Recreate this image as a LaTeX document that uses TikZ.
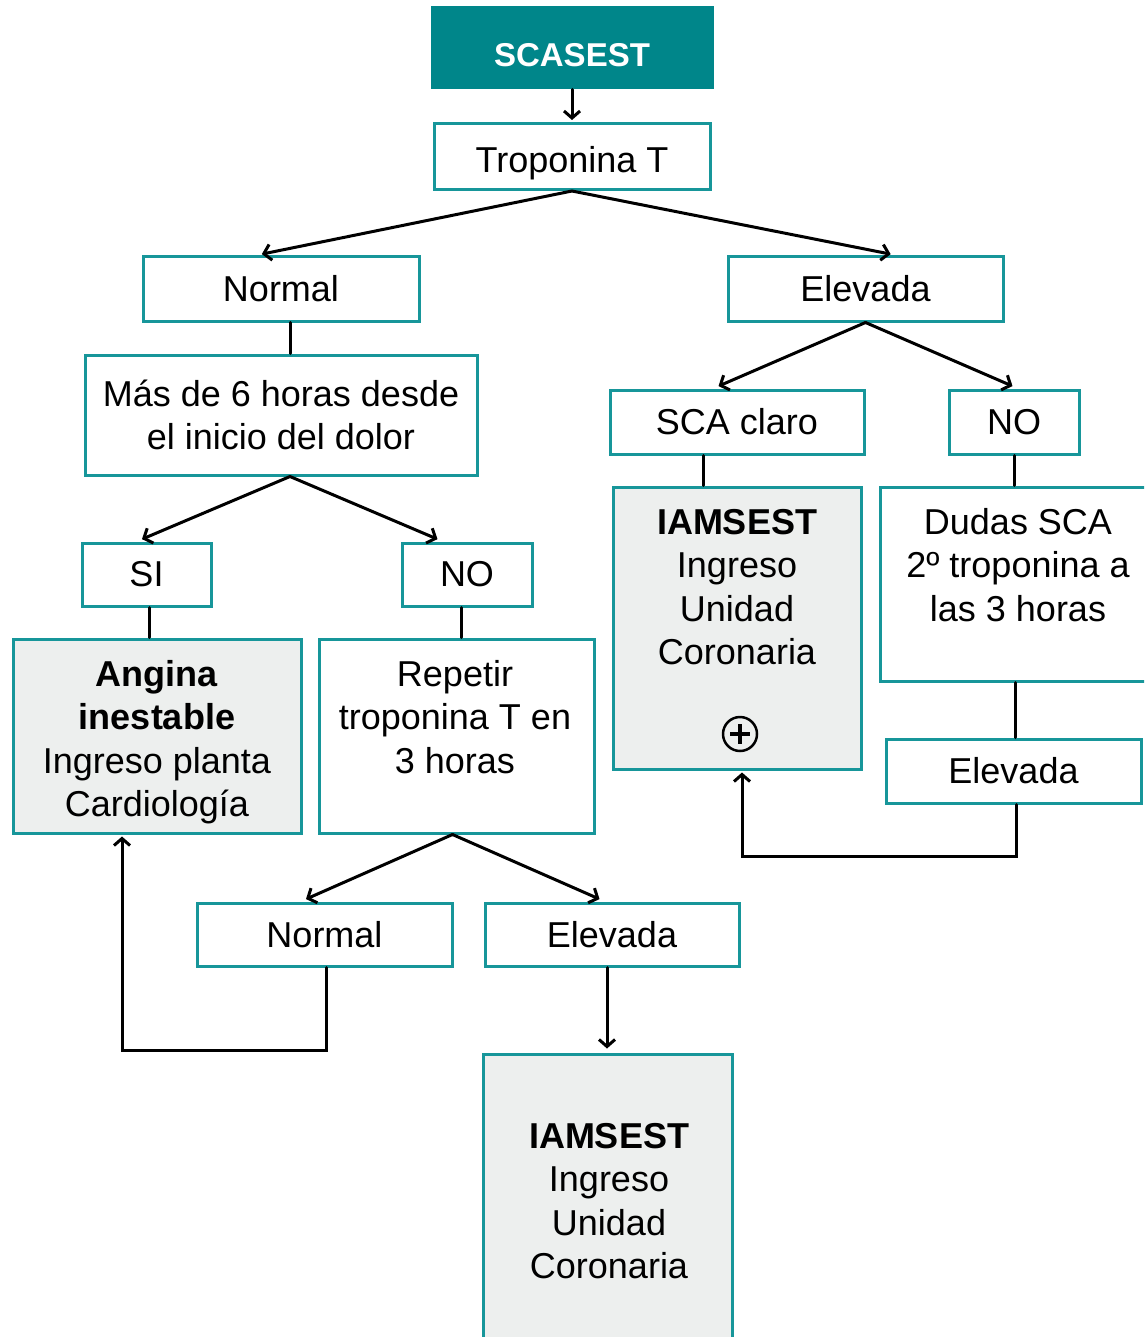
\documentclass[tikz,border=0pt]{standalone}
\usepackage{fontspec}
\setmainfont{Liberation Sans}
\usetikzlibrary{arrows.meta}
\definecolor{tealdark}{HTML}{00868A}
\definecolor{tealline}{HTML}{17969A}
\definecolor{boxgray}{HTML}{EDEFEE}

\begin{document}
\begin{tikzpicture}[x = 1pt, y = -1pt,
		txt/.style = {font = \fontsize{36}{43.5}\selectfont, align = center, inner sep = 0pt},
		box/.style = {txt, draw = tealline, line width = 3pt, fill = white},
		graybox/.style = {box, fill = boxgray},
		link/.style = {line width = 3pt, line cap = round},
		arr/.style = {link, -{Straight Barb[length = 7pt, width = 16pt, line width = 3pt]}}]
		\clip (0, 0) rectangle (1144, 1337);
		\fill[white] (0, 0) rectangle (1144, 1337);
		%%%%%%%%%%%%%
		\node[box, fill = tealdark, draw = tealdark, minimum width = 280, minimum height = 80,
			text = white, font = \fontsize{33}{40}\selectfont\bfseries, text height = 37.5pt] (scasest) at (572, 48) {SCASEST};
		\node[box, minimum width = 276, minimum height = 66, text height = 33pt, text depth = 0pt] (trop) at (572, 156.5) {Troponina T};
		\node[box, minimum width = 276, minimum height = 64] (normA) at (281, 289) {Normal};
		\node[box, minimum width = 275, minimum height = 64] (elevA) at (865.5, 289) {Elevada};
		\node[box, minimum width = 392, minimum height = 120] (masde) at (281, 415) {Más de 6 horas desde\\el inicio del dolor};
		\node[box, minimum width = 254, minimum height = 64] (scaclaro) at (737, 422) {SCA claro};
		\node[box, minimum width = 130, minimum height = 64] (noA) at (1014, 422) {NO};
		\node[graybox, minimum width = 248, minimum height = 282] (iamA) at (737, 628) {};
		\node[box, minimum width = 271, minimum height = 194] (dudas) at (1015.5, 584) {};
		\node[box, minimum width = 255, minimum height = 64] (elevB) at (1013.5, 771) {Elevada};
		\node[box, minimum width = 129, minimum height = 63] (si) at (146.5, 574.5) {SI};
		\node[box, minimum width = 130, minimum height = 63] (noB) at (467, 574.5) {NO};
		\node[graybox, minimum width = 288, minimum height = 194] (angina) at (157, 736) {};
		\node[box, minimum width = 275, minimum height = 194] (repetir) at (456.5, 736) {};
		\node[box, minimum width = 255, minimum height = 63] (normB) at (324.5, 934.5) {Normal};
		\node[box, minimum width = 254, minimum height = 63] (elevC) at (612, 934.5) {Elevada};
		\node[graybox, minimum width = 249, minimum height = 290] (iamB) at (607.5, 1199) {};
		%%%%%%%%%%%%%
		\node[txt] (anginatxt) at (157, 742) {\textbf{Angina}\\\textbf{inestable}\\Ingreso planta\\Cardiología};
		\node[txt] (iamAtxt) at (737, 587) {\textbf{IAMSEST}\\Ingreso\\Unidad\\Coronaria};
		\node[txt] (dudastxt) at (1018, 565) {Dudas SCA\\2º troponina a\\las 3 horas};
		\node[txt] (repetirtxt) at (455, 717) {Repetir\\troponina T en\\3 horas};
		\node[txt] (iamBtxt) at (609, 1201) {\textbf{IAMSEST}\\Ingreso\\Unidad\\Coronaria};
		\node[circle, draw, line width = 2.5pt, minimum size = 34, inner sep = 0pt] (plus) at (740, 734) {};
		\draw[line width = 4pt] ([yshift = 10]plus.center) to ([yshift = -10]plus.center);
		\draw[line width = 4pt] ([xshift = -10]plus.center) to ([xshift = 10]plus.center);
		%%%%%%%%%%%%%
		\draw[arr, shorten > = 2pt] (scasest) to (trop);
		\draw[arr, shorten > = 7pt] (trop.south) to ([xshift = -26]normA.north);
		\draw[arr, shorten > = 7pt] (trop.south) to ([xshift = 32]elevA.north);
		\draw[link] ([xshift = 9]normA.south) to ([xshift = 9]normA.south |- masde.north);
		\draw[arr, shorten > = 6pt] (elevA.south) to ([xshift = -24]scaclaro.north);
		\draw[arr, shorten > = 6pt] (elevA.south) to ([xshift = 4]noA.north);
		\draw[link] ([xshift = -34]scaclaro.south) to ([xshift = -34]scaclaro.south |- iamA.north);
		\draw[link] (noA.south) to (noA.south |- dudas.north);
		\draw[arr, shorten > = 6pt] ([xshift = 9]masde.south) to ([xshift = -10]si.north);
		\draw[arr, shorten > = 6pt] ([xshift = 9]masde.south) to ([xshift = -24]noB.north);
		\draw[link] ([xshift = 3]si.south) to ([xshift = 3]si.south |- angina.north);
		\draw[link] ([xshift = -6]noB.south) to ([xshift = -6]noB.south |- repetir.north);
		\draw[arr, shorten > = 6pt] ([xshift = -4]repetir.south) to ([xshift = -24]normB.north);
		\draw[arr, shorten > = 6pt] ([xshift = -4]repetir.south) to ([xshift = -7]elevC.north);
		\draw[arr, shorten > = 4pt] ([xshift = -5]elevC.south) to ([xshift = -5]elevC.south |- iamB.north);
		\draw[arr, shorten > = 2pt] ([xshift = 2]normB.south) -- ++(0, 83) -| ([xshift = -35]angina.south);
		\draw[link] ([xshift = 2]elevB.north |- dudas.south) to ([xshift = 2]elevB.north);
		\draw[arr, shorten > = 2pt] ([xshift = 3]elevB.south) -- ++(0, 52) -| ([xshift = 5]iamA.south);
\end{tikzpicture}
\end{document}
